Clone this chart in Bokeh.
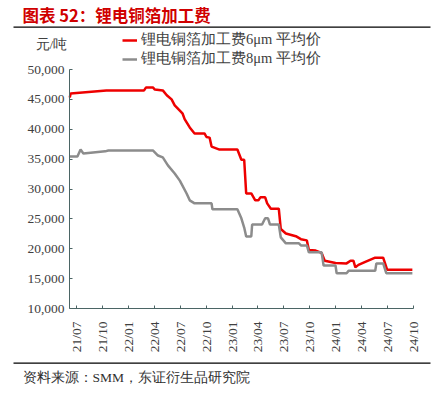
import pandas as pd
from math import pi
from bokeh.plotting import figure
from bokeh.models import (ColumnDataSource, Label, Legend, LegendItem, FixedTicker,
                          DatetimeTickFormatter, NumeralTickFormatter, Range1d, BoxAnnotation)
from bokeh.embed import file_html
from bokeh.resources import INLINE

# ---- data (corner points of the weekly price series) ----
red_dates = ["2021-06-07", "2021-06-10", "2021-10-14", "2022-02-24", "2022-03-03", "2022-03-27",
             "2022-04-03", "2022-05-01", "2022-05-15", "2022-06-01", "2022-06-12", "2022-06-30",
             "2022-07-10", "2022-07-17", "2022-08-04", "2022-08-21", "2022-09-25", "2022-10-02",
             "2022-10-13", "2022-10-20", "2022-11-17", "2023-01-19", "2023-02-02", "2023-02-12",
             "2023-02-19", "2023-03-09", "2023-03-23", "2023-04-03", "2023-04-10", "2023-04-27",
             "2023-05-04", "2023-05-17", "2023-06-14", "2023-06-21", "2023-07-09", "2023-08-13",
             "2023-08-31", "2023-09-21", "2023-09-28", "2023-10-22", "2023-11-12", "2023-11-23",
             "2023-12-31", "2024-02-08", "2024-02-22", "2024-03-03", "2024-03-10", "2024-03-21",
             "2024-04-14", "2024-05-19", "2024-06-16", "2024-06-30", "2024-09-27"]
red_values = [45300, 46000, 46500, 46500, 47000, 47000,
              46650, 46500, 45700, 45000, 44000, 43100,
              42600, 41700, 40300, 39300, 39300, 38700,
              38600, 37100, 36600, 36600, 34900, 34900,
              29250, 29250, 28100, 28100, 28600, 28600,
              27600, 26700, 26700, 23300, 22550, 22100,
              21600, 21400, 19800, 19700, 19300, 18000,
              17600, 17550, 18000, 18000, 16900, 17300,
              17800, 18500, 18500, 16500, 16500]

gray_dates = ["2021-06-07", "2021-07-04", "2021-07-15", "2021-07-25", "2021-10-10", "2021-10-21",
              "2022-03-27", "2022-04-14", "2022-05-01", "2022-05-19", "2022-06-12", "2022-06-30",
              "2022-07-24", "2022-08-04", "2022-08-21", "2022-10-20", "2022-10-23", "2023-01-19",
              "2023-02-02", "2023-02-12", "2023-02-19", "2023-03-09", "2023-03-12", "2023-04-16",
              "2023-04-27", "2023-05-07", "2023-05-14", "2023-06-14", "2023-06-21", "2023-07-09",
              "2023-08-24", "2023-08-31", "2023-09-21", "2023-09-28", "2023-11-12", "2023-11-19",
              "2023-12-31", "2024-01-04", "2024-02-08", "2024-02-15", "2024-05-19", "2024-05-23",
              "2024-06-16", "2024-06-27", "2024-09-27"]
gray_values = [35450, 35450, 36600, 35950, 36300, 36450,
               36450, 35600, 35300, 33950, 32600, 31400,
               29250, 28100, 27600, 27600, 26600, 26600,
               25100, 23550, 22050, 22050, 24050, 24050,
               25100, 25100, 24050, 24050, 21900, 20900,
               20900, 20550, 20550, 19400, 19400, 17200,
               17200, 15900, 15900, 16300, 16300, 17550,
               17550, 15900, 15900]

tick_dates = ["2021-07-01", "2021-10-01", "2022-01-01", "2022-04-01", "2022-07-01", "2022-10-01",
              "2023-01-01", "2023-04-01", "2023-07-01", "2023-10-01", "2024-01-01", "2024-04-01",
              "2024-07-01", "2024-10-01"]
y_ticks = [10000, 15000, 20000, 25000, 30000, 35000, 40000, 45000, 50000]
x_start, x_end = "2021-06-06", "2024-10-01"
y_min, y_max = 10000, 50000

series_names = ["锂电铜箔加工费6μm 平均价", "锂电铜箔加工费8μm 平均价"]
title_text = "图表 52：锂电铜箔加工费"
unit_text = "元/吨"
source_text = "资料来源：SMM，东证衍生品研究院"

SERIF = "Liberation Serif"
CJK = "Noto Sans CJK SC"

# ---- layout (canvas pixels, from top-left) ----
W, H = 436, 396
PL, PR, PT, PB = 69, 413, 69, 308   # plotting box of the axes inside the canvas


def ms(d):
    return pd.Timestamp(d).value / 1e6


x0, x1 = ms(x_start), ms(x_end)
xpp = (x1 - x0) / (PR - PL)
ypp = (y_max - y_min) / (PB - PT)

red_src = ColumnDataSource(dict(x=pd.to_datetime(red_dates), y=red_values))
gray_src = ColumnDataSource(dict(x=pd.to_datetime(gray_dates), y=gray_values))

p = figure(width=W, height=H, x_axis_type="datetime", output_backend="svg",
           toolbar_location=None, min_border=0, min_border_left=0, min_border_right=0,
           min_border_top=0, min_border_bottom=0)
p.title.visible = False
p.x_range = Range1d(x0 - PL * xpp, x1 + (W - PR) * xpp)
p.y_range = Range1d(y_min - (H - PB) * ypp, y_max + PT * ypp)
p.outline_line_color = None
p.xgrid.visible = False
p.ygrid.visible = False
p.background_fill_color = "white"
p.border_fill_color = "white"

r_red = p.line("x", "y", source=red_src, line_color="#EE0000", line_width=2.5)
r_gray = p.line("x", "y", source=gray_src, line_color="#8C8C8C", line_width=2.5)

AX = "#4B6565"
for ax in (p.xaxis[0], p.yaxis[0]):
    ax.axis_line_color = AX
    ax.major_tick_line_color = AX
    ax.major_tick_in = 3
    ax.major_tick_out = 0
    ax.minor_tick_line_color = None
    ax.major_label_text_font = SERIF
    ax.major_label_text_font_size = "13.5px"
    ax.major_label_text_color = "#404040"

p.xaxis.fixed_location = y_min
p.xaxis.bounds = (x0, x1)
p.xaxis.ticker = FixedTicker(ticks=[ms(d) for d in tick_dates])
p.xaxis.formatter = DatetimeTickFormatter(days="%y/%m", months="%y/%m", years="%y/%m")
p.xaxis.major_label_orientation = pi / 2
p.xaxis.major_label_standoff = 13

p.yaxis.fixed_location = x0
p.yaxis.bounds = (y_min, y_max)
p.yaxis.ticker = FixedTicker(ticks=y_ticks)
p.yaxis.formatter = NumeralTickFormatter(format="0,0")
p.yaxis.major_label_standoff = 5

legend = Legend(items=[LegendItem(label=series_names[0], renderers=[r_red]),
                       LegendItem(label=series_names[1], renderers=[r_gray])],
                location=(122, H - 68), padding=0, margin=0, spacing=0,
                glyph_width=15, glyph_height=16, label_height=16, label_standoff=4,
                label_text_font=SERIF, label_text_font_size="14.5px", label_text_color="#404040",
                background_fill_alpha=0, border_line_color=None)
p.add_layout(legend, "center")

# texts and rules in canvas units (pixels from top-left of the figure)
p.add_layout(Label(x=22, y=14, x_units="canvas", y_units="canvas", text=title_text,
                   text_font=CJK, text_font_style="bold", text_font_size="16.5px",
                   text_color="#D00000", text_baseline="middle"))
p.add_layout(Label(x=35, y=44, x_units="canvas", y_units="canvas", text=unit_text,
                   text_font=SERIF, text_font_size="13.5px", text_color="#404040",
                   text_baseline="middle"))
p.add_layout(Label(x=22, y=377, x_units="canvas", y_units="canvas", text=source_text,
                   text_font=SERIF, text_font_size="13.5px", text_color="#303030",
                   text_baseline="middle"))
for top in (26, 362):
    p.add_layout(BoxAnnotation(left=13, right=430, top=top, bottom=top + 1.2,
                               left_units="canvas", right_units="canvas",
                               top_units="canvas", bottom_units="canvas",
                               fill_color="black", fill_alpha=1, line_color=None))

open("out.html", "w").write(file_html(p, INLINE))
